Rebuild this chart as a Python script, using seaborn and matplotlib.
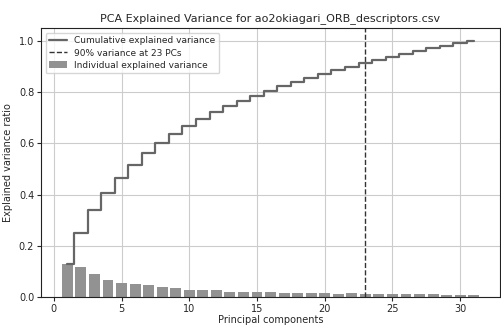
import numpy as np
import pandas as pd
import matplotlib
matplotlib.use("Agg")
import matplotlib.pyplot as plt
import seaborn as sns

# individual explained variance ratio per principal component
components = list(range(1, 32))
explained = [0.131, 0.119, 0.090, 0.067, 0.056, 0.051, 0.048, 0.041, 0.035, 0.029,
             0.028, 0.028, 0.022, 0.021, 0.020, 0.019, 0.017, 0.017, 0.016, 0.016,
             0.013, 0.015, 0.013, 0.014, 0.011, 0.012, 0.011, 0.011, 0.010, 0.010,
             0.009]
threshold = 0.90
dataset_name = "ao2okiagari_ORB_descriptors.csv"

df = pd.DataFrame({"pc": components, "explained": explained})
df["cumulative"] = np.cumsum(df["explained"])
n_90 = int(df.loc[df["cumulative"] >= threshold, "pc"].iloc[0])

sns.set_style("ticks", {"axes.grid": True, "grid.color": "#cccccc",
                        "axes.edgecolor": "#222222"})
plt.rcParams["font.family"] = ["DejaVu Sans"]

fig = plt.figure(figsize=(5.01, 3.26), dpi=100)
ax = fig.add_axes([0.082, 0.088, 0.916, 0.825])

sns.barplot(data=df, x="pc", y="explained", native_scale=True, color="#929292",
            saturation=1, width=0.8, linewidth=0, label="Individual explained variance", ax=ax)
sns.lineplot(data=df, x="pc", y="cumulative", drawstyle="steps-mid", color="#666666",
             linewidth=1.6, label="Cumulative explained variance", ax=ax)
ax.axvline(n_90, color="#333333", linestyle="--", linewidth=1,
           label=f"{int(threshold * 100)}% variance at {n_90} PCs")

ax.set_xlim(-0.94, 32.94)
ax.set_ylim(0, 1.048)
ax.set_xticks(range(0, 31, 5))
ax.set_yticks(np.arange(0, 1.01, 0.2))
ax.tick_params(labelsize=7, length=3, width=0.8, pad=2)
ax.set_xlabel("Principal components", fontsize=7, labelpad=0.5)
ax.set_ylabel("Explained variance ratio", fontsize=7, labelpad=4)
ax.set_title(f"PCA Explained Variance for {dataset_name}", fontsize=8, pad=5)

handles, labels = ax.get_legend_handles_labels()
order = [labels.index("Cumulative explained variance"),
         labels.index(f"{int(threshold * 100)}% variance at {n_90} PCs"),
         labels.index("Individual explained variance")]
ax.legend([handles[i] for i in order], [labels[i] for i in order], loc="upper left",
          fontsize=6.5, frameon=True, borderpad=0.4, handlelength=2.0, labelspacing=0.35)
for s in ax.spines.values():
    s.set_linewidth(0.8)

fig.savefig("out.png", dpi=100)
